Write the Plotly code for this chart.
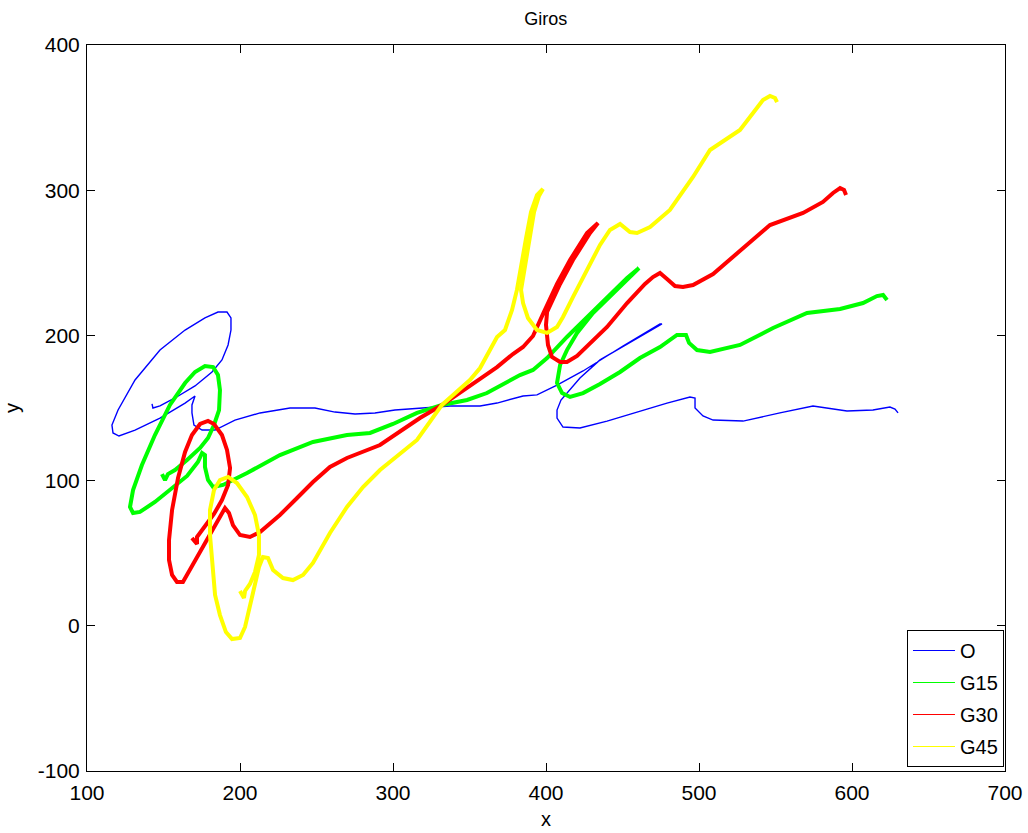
import plotly.graph_objects as go

# Trajectories (x, y) for each rotation case
o_x = [142.5, 143.1, 147.7, 157.5, 170.6, 181.7, 188.2, 192.2, 194.1, 194.1, 191.5, 185.6, 177.1, 164.1,
       147.7, 131.4, 120.3, 116.3, 117.0, 120.9, 131.4, 147.7, 164.1, 170.6, 168.6, 168.6, 169.9, 175.2,
       183.7, 196.7, 213.1, 232.7, 249.0, 262.1, 275.2, 288.2, 301.3, 317.6, 337.3, 356.9, 368.0, 385.0,
       394.1, 407.2, 424.2, 450.3, 474.5, 475.8, 451.6, 435.3, 422.2, 414.4, 409.8, 407.2, 407.2, 411.1,
       422.2, 439.9, 461.4, 479.1, 494.1, 497.4, 497.4, 502.6, 509.2, 528.8, 552.9, 574.5, 596.7, 613.7,
       624.8, 628.1, 630.1]
o_y = [152.8, 150.0, 151.4, 156.9, 165.2, 174.8, 183.1, 193.4, 203.7, 212.0, 216.1, 216.1, 212.0, 203.7,
       189.9, 169.3, 148.6, 138.3, 132.8, 130.7, 134.8, 143.1, 153.4, 158.3, 152.1, 146.6, 138.3, 134.8,
       134.8, 141.7, 146.6, 150.0, 150.0, 147.2, 145.9, 146.6, 148.6, 150.0, 151.4, 151.4, 153.4, 158.3,
       159.0, 165.8, 175.5, 192.7, 207.9, 207.9, 193.4, 183.1, 170.7, 161.0, 155.5, 148.6, 143.1, 136.9,
       136.2, 141.0, 147.9, 153.4, 157.6, 156.9, 150.0, 144.5, 141.7, 141.0, 146.6, 151.4, 147.9, 148.6,
       150.7, 149.3, 146.6]

g15_x = [149.0, 151.0, 152.9, 157.5, 165.4, 173.9, 179.1, 183.0, 186.3, 186.9, 185.6, 182.4, 177.1, 170.6,
         164.1, 154.2, 144.4, 135.9, 130.1, 128.1, 130.1, 134.6, 144.4, 154.2, 165.4, 172.5, 175.2, 177.1,
         177.1, 179.1, 182.4, 188.9, 204.6, 226.1, 247.7, 269.9, 285.0, 300.0, 315.7, 332.0, 348.4, 361.4,
         369.9, 383.0, 391.5, 400.7, 413.7, 426.8, 439.9, 453.0, 460.8, 456.9, 443.8, 430.7, 420.3, 413.7,
         409.2, 407.2, 410.5, 415.7, 424.2, 435.3, 448.4, 461.4, 474.5, 485.6, 491.5, 493.5, 498.7, 507.2,
         526.8, 548.4, 570.6, 592.2, 607.2, 616.3, 620.3, 622.9]
g15_y = [104.5, 100.4, 104.5, 107.3, 114.2, 122.5, 129.3, 138.3, 148.6, 162.4, 172.7, 178.2, 178.9, 174.8,
         167.2, 152.1, 131.4, 110.7, 93.5, 81.8, 77.7, 78.4, 85.3, 93.5, 103.2, 112.8, 119.0, 117.6,
         109.4, 100.4, 95.6, 97.0, 105.2, 117.6, 126.6, 131.4, 132.8, 139.0, 146.6, 152.1, 155.5, 160.3,
         165.2, 172.7, 176.2, 184.4, 198.9, 212.7, 226.4, 239.5, 246.4, 242.3, 229.2, 215.4, 201.7, 189.9,
         179.6, 167.2, 160.3, 157.6, 160.3, 166.5, 174.8, 184.4, 192.0, 200.3, 200.3, 194.8, 189.9, 188.6,
         193.4, 205.1, 215.4, 218.2, 222.3, 227.1, 227.8, 224.4]

g30_x = [168.6, 171.9, 171.9, 177.1, 183.0, 188.2, 192.2, 193.5, 191.5, 188.2, 183.0, 179.1, 173.9, 168.6,
         164.1, 159.5, 155.6, 153.6, 153.6, 155.6, 158.8, 162.7, 168.0, 174.5, 183.0, 190.2, 192.8, 195.4,
         200.0, 206.5, 213.1, 226.1, 237.3, 247.7, 258.8, 269.9, 291.5, 304.6, 317.6, 332.0, 345.8, 356.9,
         368.0, 378.4, 385.0, 391.5, 398.0, 407.2, 415.7, 426.8, 434.0, 428.8, 417.6, 409.2, 400.7, 400.0,
         401.3, 403.9, 409.2, 413.7, 420.3, 430.7, 439.9, 453.0, 464.7, 469.9, 474.5, 479.1, 484.3, 489.5,
         496.1, 509.2, 526.8, 546.4, 568.0, 581.0, 587.6, 592.2, 594.8, 596.1]
g30_y = [60.5, 56.3, 61.2, 68.1, 77.0, 86.6, 97.0, 108.7, 121.1, 131.4, 139.0, 141.1, 139.0, 131.4,
         119.7, 101.8, 79.8, 59.1, 45.3, 35.0, 30.2, 30.2, 39.8, 52.9, 68.1, 81.1, 77.7, 69.4,
         62.5, 61.2, 64.6, 76.3, 88.0, 99.0, 109.4, 115.6, 124.5, 133.5, 143.1, 152.1, 161.7, 170.0,
         178.2, 187.2, 192.0, 199.6, 214.7, 235.4, 251.9, 270.5, 277.4, 270.5, 251.9, 235.4, 216.1, 207.2,
         193.4, 185.1, 181.7, 181.7, 185.8, 196.1, 205.8, 222.3, 235.4, 240.2, 243.0, 238.8, 234.0, 233.3,
         234.7, 242.3, 258.1, 276.0, 284.3, 291.9, 298.1, 301.5, 300.1, 296.7]

g45_x = [200.0, 202.6, 203.3, 206.5, 209.8, 212.4, 212.4, 209.8, 204.6, 198.0, 192.2, 186.9, 183.0, 180.4,
         180.4, 181.7, 183.7, 186.9, 190.8, 194.8, 200.0, 203.3, 206.5, 209.8, 212.4, 215.0, 218.3, 221.6,
         228.1, 234.6, 241.2, 247.7, 258.8, 269.9, 280.4, 291.5, 315.7, 332.0, 350.3, 356.9, 368.0, 373.2,
         377.8, 381.0, 383.7, 387.0, 390.2, 394.1, 398.0, 395.4, 392.2, 389.2, 386.0, 383.7, 385.0, 388.2,
         394.1, 400.7, 407.2, 411.1, 417.6, 426.8, 435.3, 441.8, 448.4, 454.9, 459.5, 468.0, 481.0, 496.1,
         507.2, 526.8, 535.3, 541.8, 546.4, 549.7, 551.0]
g45_y = [24.0, 19.1, 24.0, 28.8, 37.1, 48.8, 62.5, 76.3, 88.7, 98.3, 102.5, 100.4, 93.5, 79.8,
         62.5, 45.3, 21.2, 7.4, -4.3, -9.1, -8.4, -0.8, 12.9, 26.7, 40.5, 47.4, 46.7, 38.4,
         32.9, 31.5, 35.0, 43.3, 63.9, 81.8, 95.6, 107.3, 128.0, 152.1, 169.3, 177.5, 198.9, 203.7,
         217.5, 231.3, 248.5, 267.1, 285.0, 296.7, 300.8, 296.0, 285.0, 267.1, 248.5, 231.3, 222.3, 212.0,
         203.7, 201.7, 205.8, 212.7, 226.4, 245.0, 262.3, 272.6, 276.7, 271.2, 270.5, 274.7, 286.4, 309.1,
         327.7, 341.5, 353.2, 362.1, 364.9, 363.5, 360.7]

series_names = ["O", "G15", "G30", "G45"]
series_colors = ["#0000ff", "#00ff00", "#ff0000", "#ffff00"]
series_widths = [1.4, 4, 4, 4]
series_data = [(o_x, o_y), (g15_x, g15_y), (g30_x, g30_y), (g45_x, g45_y)]

x_ticks = [100, 200, 300, 400, 500, 600, 700]
y_ticks = [-100, 0, 100, 200, 300, 400]

FONT = "Liberation Sans, Arial, Helvetica, sans-serif"

fig = go.Figure()

for name, color, width, (xs, ys) in zip(series_names, series_colors, series_widths, series_data):
    fig.add_trace(go.Scatter(
        x=xs, y=ys, mode="lines", name=name, showlegend=False,
        line=dict(color=color, width=width),
        hoverinfo="x+y+name",
    ))

# Thin legend samples
for name, color in zip(series_names, series_colors):
    fig.add_trace(go.Scatter(
        x=[None], y=[None], mode="lines", name=name, legendgroup=name,
        line=dict(color=color, width=1),
    ))

axis_common = dict(
    showgrid=False, zeroline=False, automargin=False,
    showline=True, linecolor="black", linewidth=1,
    mirror="ticks", ticks="inside", ticklen=8, tickcolor="black", tickwidth=1,
    tickfont=dict(family=FONT, size=21, color="black"),
)

fig.update_layout(
    width=1028, height=833,
    margin=dict(l=87, r=23, t=45, b=62),
    paper_bgcolor="white", plot_bgcolor="white",
    font=dict(family=FONT, size=20, color="black"),
    title=dict(text="Giros", x=0.531, xanchor="center", y=0.978, yanchor="middle",
               font=dict(family=FONT, size=18, color="black")),
    xaxis=dict(range=[100, 700], tickvals=x_ticks, ticktext=[str(v) for v in x_ticks],
               ticklabelstandoff=3,
               title=dict(text="x", standoff=8, font=dict(family=FONT, size=20)),
               **axis_common),
    yaxis=dict(range=[-100, 400], tickvals=y_ticks, ticktext=[str(v) for v in y_ticks],
               ticklabelstandoff=2,
               title=dict(text="y", standoff=12, font=dict(family=FONT, size=20)),
               **axis_common),
    legend=dict(x=0.9989, y=0.0055, xanchor="right", yanchor="bottom",
                bgcolor="white", bordercolor="black", borderwidth=1,
                font=dict(family=FONT, size=20, color="black"),
                itemwidth=42,
                traceorder="grouped", tracegroupgap=3),
)

fig.write_html("out.html")
